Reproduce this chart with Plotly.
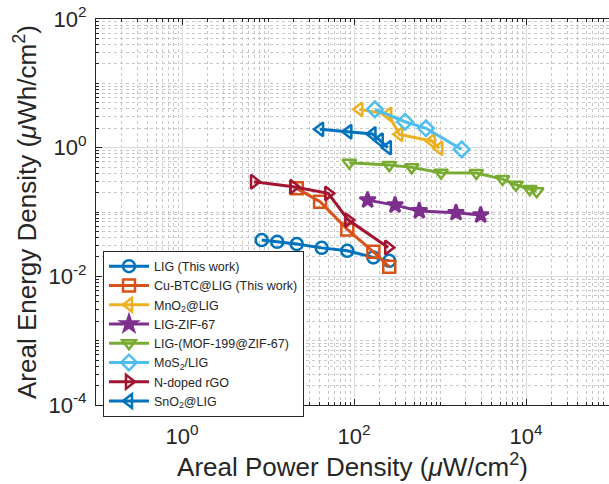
import plotly.graph_objects as go

# ---- data ----
lig_x = [8.45, 12.8, 21.6, 42.1, 83.6, 168, 257]
lig_y = [0.0366, 0.0344, 0.0317, 0.0277, 0.0249, 0.0197, 0.0174]

cubtc_x = [21.6, 40.3, 83.6, 168, 257]
cubtc_y = [0.233, 0.144, 0.0536, 0.024, 0.0141]

mno2_x = [115, 250, 336, 800, 981]
mno2_y = [3.94, 3.30, 1.61, 1.27, 0.975]

zif_x = [144, 300, 574, 1535, 2974]
zif_y = [0.153, 0.128, 0.104, 0.0972, 0.0895]

mof_x = [88.2, 257, 469, 1028, 2643, 5330, 7650, 11040, 13300]
mof_y = [0.582, 0.536, 0.494, 0.407, 0.403, 0.325, 0.265, 0.227, 0.211]

mos2_x = [175, 392, 687, 1787]
mos2_y = [3.94, 2.53, 2.0, 0.94]

ngo_x = [6.88, 19.7, 50.2, 85.9, 250]
ngo_y = [0.295, 0.247, 0.195, 0.0748, 0.0281]

sno2_x = [40.3, 85.9, 164, 199, 247]
sno2_y = [1.93, 1.77, 1.63, 1.31, 1.0]

series = [
    ("LIG (This work)", lig_x, lig_y, "#0072BD", "circle-open"),
    ("Cu-BTC@LIG (This work)", cubtc_x, cubtc_y, "#D95319", "square-open"),
    ("MnO<sub>2</sub>@LIG", mno2_x, mno2_y, "#EDB120", "triangle-left-open"),
    ("LIG-ZIF-67", zif_x, zif_y, "#7E2F8E", "star"),
    ("LIG-(MOF-199@ZIF-67)", mof_x, mof_y, "#77AC30", "triangle-down-open"),
    ("MoS<sub>2</sub>/LIG", mos2_x, mos2_y, "#4DBEEE", "diamond-open"),
    ("N-doped rGO", ngo_x, ngo_y, "#A2142F", "triangle-right-open"),
    ("SnO<sub>2</sub>@LIG", sno2_x, sno2_y, "#0072BD", "triangle-left-open"),
]

x_major = [1, 100, 10000]
x_major_text = ["10<sup>0</sup>", "10<sup>2</sup>", "10<sup>4</sup>"]
y_major = [1e-4, 1e-2, 1, 100]
y_major_text = ["10<sup>-4</sup>", "10<sup>-2</sup>", "10<sup>0</sup>", "10<sup>2</sup>"]

def minor_vals(lo, hi, majors):
    vals = []
    for e in range(lo, hi + 1):
        for m in range(1, 10):
            v = m * 10.0 ** e
            if not any(abs(v - M) / M < 1e-9 for M in majors):
                vals.append(v)
    return vals

fig = go.Figure()
for name, xs, ys, col, sym in series:
    fig.add_trace(go.Scatter(
        x=xs, y=ys, name=name, mode="lines+markers",
        line=dict(color=col, width=3),
        marker=dict(symbol=sym, size=12, color=col,
                    line=dict(color=col, width=2.5)),
    ))

font_family = "Liberation Sans, Arial, Helvetica, sans-serif"
axis_common = dict(
    type="log", showline=True, linecolor="#262626", linewidth=1,
    ticks="inside", ticklen=6, tickcolor="#262626", automargin=False,
    showgrid=True, gridcolor="#dcdcdc", gridwidth=1,
    zeroline=False, tickfont=dict(size=22, color="#262626", family=font_family),
)

fig.update_xaxes(
    **axis_common, range=[-1, 4.965], mirror="ticks", ticklabelstandoff=12,
    tickmode="array", tickvals=x_major, ticktext=x_major_text,
    minor=dict(tickmode="array", tickvals=minor_vals(-1, 5, x_major),
               ticks="inside", ticklen=3, tickcolor="#262626",
               showgrid=True, gridcolor="#c8c8c8", griddash="dot", gridwidth=1),
    title=dict(text="Areal Power Density (<i>μ</i>W/cm<sup>2</sup>)",
               font=dict(size=26, color="#262626", family=font_family), standoff=4),
)
fig.update_yaxes(
    **axis_common, range=[-4, 2], ticklabelstandoff=4,
    tickmode="array", tickvals=y_major, ticktext=y_major_text,
    minor=dict(tickmode="array", tickvals=minor_vals(-4, 2, y_major),
               ticks="inside", ticklen=3, tickcolor="#262626",
               showgrid=True, gridcolor="#c8c8c8", griddash="dot", gridwidth=1),
    title=dict(text="Areal Energy Density (<i>μ</i>Wh/cm<sup>2</sup>)",
               font=dict(size=26, color="#262626", family=font_family), standoff=4),
)

fig.update_layout(
    width=609, height=484,
    margin=dict(l=96, r=0, t=19, b=79),
    plot_bgcolor="white", paper_bgcolor="white",
    font=dict(family=font_family, color="#262626"),
    legend=dict(
        x=0.0136, y=0.40, xanchor="left", yanchor="top",
        bgcolor="white", bordercolor="#262626", borderwidth=1,
        font=dict(size=12.5, color="#262626", family=font_family),
        tracegroupgap=0, itemwidth=40,
    ),
    showlegend=True,
)

fig.write_html("out.html", config={"displayModeBar": False},
               post_script="document.body.style.margin='0';")
